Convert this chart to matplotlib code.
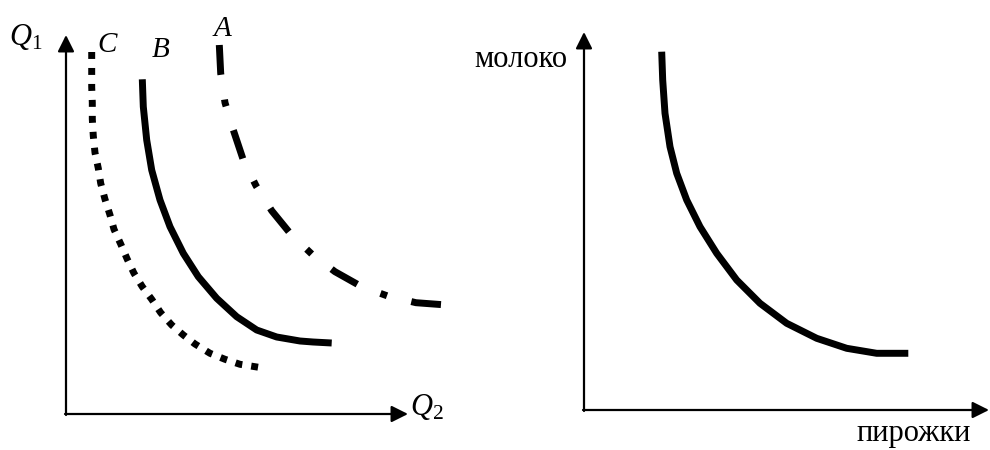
import matplotlib.pyplot as plt

plt.rcParams['font.family'] = ['Liberation Serif', 'DejaVu Serif']
plt.rcParams['mathtext.fontset'] = 'custom'
plt.rcParams['mathtext.rm'] = 'Liberation Serif'
plt.rcParams['mathtext.it'] = 'Liberation Serif:italic'

# left panel: three indifference curves (units measured from the axes origin)
c_x = [25.7, 25.7, 25.7, 26.3, 26.3, 27.3, 29, 32.3, 34.7, 39, 44, 48, 54.7,
       61.3, 68, 76.3, 85.7, 94.7, 105.7, 117.3, 129, 144, 159, 174, 194]
c_y = [362, 343.3, 327, 311.3, 295, 278, 261.3, 245.7, 230.7, 214.7, 199,
       184.7, 170, 154.7, 140.7, 127.3, 114.7, 101.3, 89, 79, 70, 60.7, 54.7,
       49.7, 46.5]
b_x = [76.3, 77.3, 80.7, 85.7, 94, 104, 117.3, 132.3, 150.7, 170.7, 190.7,
       210.7, 234, 247, 265.7]
b_y = [334.7, 307.3, 274, 244, 214, 187.3, 160.7, 137.3, 115.7, 97.3, 84,
       77, 73, 72, 71]
a_x = [153.3, 154.7, 159, 167.3, 177.3, 190, 205.7, 224.7, 245.7, 269,
       295.7, 321.7, 350, 380.7]
a_y = [369, 340.7, 311.3, 284, 254, 228.3, 203.3, 180, 160, 142.3, 127.3,
       118, 111.3, 109]

# right panel: one curve
r_x = [77.7, 78.7, 81, 86, 92.7, 102.7, 116, 132.7, 152.7, 176, 202.7,
       232.7, 262.7, 292.7, 324.3]
r_y = [358.3, 330, 296.7, 263.3, 236.7, 210, 183.3, 156.7, 130, 106.7, 86.7,
       71.7, 61.7, 56.7, 56.7]

W, H = 990, 450
fig = plt.figure(figsize=(9.9, 4.5), dpi=100)

ax1 = fig.add_axes([66 / W, 36 / H, 390 / W, 390 / H])
ax1.set_xlim(0, 390)
ax1.set_ylim(0, 390)
ax2 = fig.add_axes([584 / W, 40 / H, 406 / W, 390 / H])
ax2.set_xlim(0, 406)
ax2.set_ylim(0, 390)

arrow = dict(arrowstyle='-|>,head_length=1.0,head_width=0.5',
             lw=1.6, color='black', shrinkA=0, shrinkB=0)
for ax, xt, yt in [(ax1, 342, 379), (ax2, 405, 378)]:
    ax.axis('off')
    ax.annotate('', xy=(xt, 0), xytext=(-1, 0), annotation_clip=False,
                arrowprops=arrow)
    ax.annotate('', xy=(0, yt), xytext=(0, -1), annotation_clip=False,
                arrowprops=arrow)

ax1.plot(c_x, c_y, color='black', lw=5, linestyle=(0, (1.0, 1.3)),
         dash_capstyle='butt')
ax1.plot(b_x, b_y, color='black', lw=5, solid_joinstyle='round',
         solid_capstyle='butt')
ax1.plot(a_x, a_y, color='black', lw=5, linestyle=(0, (4.3, 3.6, 1.0, 3.6)),
         dash_capstyle='butt')
ax2.plot(r_x, r_y, color='black', lw=5, solid_joinstyle='round',
         solid_capstyle='butt')

ax1.text(-40, 369, r'$Q_{\mathrm{1}}$', fontsize=22, ha='center', va='baseline')
ax1.text(361, -1, r'$Q_{\mathrm{2}}$', fontsize=22, ha='center', va='baseline')
ax1.text(41, 362, 'C', fontsize=21, style='italic', ha='center', va='baseline')
ax1.text(95, 357, 'B', fontsize=21, style='italic', ha='center', va='baseline')
ax1.text(156, 378, 'A', fontsize=21, style='italic', ha='center', va='baseline')

ax2.text(-63.5, 343, 'молоко', fontsize=22, ha='center', va='baseline')
ax2.text(330, -31, 'пирожки', fontsize=22, ha='center', va='baseline')

fig.savefig('out.png', dpi=100)
